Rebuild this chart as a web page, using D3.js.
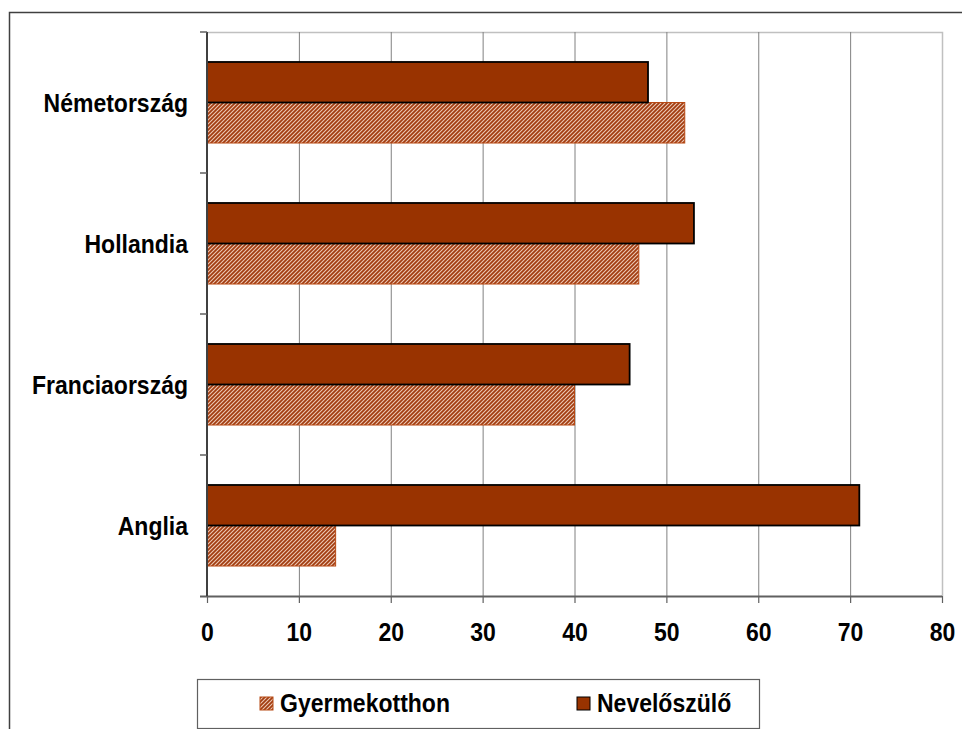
<!DOCTYPE html>
<html>
<head>
<meta charset="utf-8">
<script src="https://cdn.jsdelivr.net/npm/d3@7"></script>
<style>
  body { margin: 0; background: #fff; }
  svg { display: block; }
  text { font-family: "Liberation Sans", Arial, sans-serif; font-weight: bold; }
</style>
</head>
<body>
<script>
const categories = ["Németország", "Hollandia", "Franciaország", "Anglia"];
const seriesNames = ["Nevelőszülő", "Gyermekotthon"];
const nevelo = [48, 53, 46, 71];
const gyermek = [52, 47, 40, 14];
const xTicks = [0, 10, 20, 30, 40, 50, 60, 70, 80];

const W = 962, H = 729;
const FS = 25, SX = 0.92;
const svg = d3.select("body").append("svg").attr("width", W).attr("height", H);

const defs = svg.append("defs");
const pat = defs.append("pattern")
  .attr("id", "hatch").attr("patternUnits", "userSpaceOnUse")
  .attr("width", 4).attr("height", 4);
pat.append("rect").attr("width", 4).attr("height", 4).attr("fill", "#a23c10");
pat.append("path").attr("d", "M-1,1 l2,-2 M0,4 l4,-4 M3,5 l2,-2")
  .attr("stroke", "#ecc8b4").attr("stroke-width", 1.1);

// outer frame
svg.append("path").attr("d", "M9.5,729 L9.5,12.5 L962,12.5")
  .attr("fill", "none").attr("stroke", "#404040").attr("stroke-width", 1.5);

const pLeft = 207, pRight = 942, pTop = 32, pBottom = 596;
const x = d3.scaleLinear().domain([0, 80]).range([pLeft, pRight]);
const y = d3.scaleBand().domain(categories).range([pTop, pBottom]).paddingInner(0).paddingOuter(0);
const inner = d3.scaleBand().domain(seriesNames).range([0, y.bandwidth()]).paddingOuter(0.74).paddingInner(0);

// plot border top/right
svg.append("path").attr("d", `M${pLeft},${pTop + 0.5} L${pRight + 0.5},${pTop + 0.5} L${pRight + 0.5},${pBottom}`)
  .attr("fill", "none").attr("stroke", "#c0c0c0").attr("stroke-width", 1.5);

// gridlines
svg.append("g").selectAll("line").data(xTicks.slice(1, -1)).join("line")
  .attr("x1", d => x(d) + 0.5).attr("x2", d => x(d) + 0.5)
  .attr("y1", pTop).attr("y2", pBottom)
  .attr("stroke", "#808080").attr("stroke-width", 1);

// bars
const rows = categories.map((c, i) => ({ c, vals: [nevelo[i], gyermek[i]] }));
const g = svg.append("g");
rows.forEach(r => {
  g.append("rect")
    .attr("x", x(0)).attr("y", y(r.c) + inner("Gyermekotthon"))
    .attr("width", x(r.vals[1]) - x(0)).attr("height", inner.bandwidth())
    .attr("fill", "url(#hatch)").attr("stroke", "#b84a14").attr("stroke-width", 1);
  g.append("rect")
    .attr("x", x(0)).attr("y", y(r.c) + inner("Nevelőszülő"))
    .attr("width", x(r.vals[0]) - x(0)).attr("height", inner.bandwidth())
    .attr("fill", "#993300").attr("stroke", "#000").attr("stroke-width", 1.8);
});

// x axis
const xAxis = svg.append("g").attr("transform", `translate(0,${pBottom})`)
  .call(d3.axisBottom(x).tickValues(xTicks).tickSize(7).tickPadding(20));
xAxis.select(".domain").attr("stroke", "#606060").attr("stroke-width", 2).attr("d", `M${pLeft - 7},0.5H${pRight}`);
xAxis.selectAll(".tick line").attr("stroke", "#606060").attr("stroke-width", 1.2);
xAxis.selectAll(".tick text").attr("fill", "#000").attr("font-size", FS).attr("font-weight", "bold")
  .attr("font-family", "Liberation Sans, Arial, sans-serif")
  .attr("transform", `scale(${SX},1)`);

// y axis
const yTickPos = d3.range(categories.length + 1).map(i => pTop + i * y.step());
svg.append("line").attr("x1", pLeft).attr("x2", pLeft).attr("y1", pTop).attr("y2", pBottom)
  .attr("stroke", "#404040").attr("stroke-width", 2);
svg.append("g").selectAll("line").data(yTickPos.slice(0, -1)).join("line")
  .attr("x1", pLeft - 7).attr("x2", pLeft).attr("y1", d => d).attr("y2", d => d)
  .attr("stroke", "#606060").attr("stroke-width", 1.5);
svg.append("g").selectAll("text").data(categories).join("text")
  .attr("transform", d => `translate(188,${y(d) + y.bandwidth() / 2}) scale(${SX},1)`)
  .attr("dy", "0.36em").attr("text-anchor", "end")
  .attr("font-size", FS).attr("fill", "#000").text(d => d);

// legend
const leg = svg.append("g");
leg.append("rect").attr("x", 197.5).attr("y", 679.5).attr("width", 562).attr("height", 49)
  .attr("fill", "#fff").attr("stroke", "#606060").attr("stroke-width", 1.2);
const legItems = [
  { name: "Gyermekotthon", sx: 260, fill: "url(#hatch)", stroke: "#b84a14" },
  { name: "Nevelőszülő", sx: 577, fill: "#993300", stroke: "#000" }
];
legItems.forEach(it => {
  leg.append("rect").attr("x", it.sx).attr("y", 697).attr("width", 13).attr("height", 13)
    .attr("fill", it.fill).attr("stroke", it.stroke).attr("stroke-width", 1);
  leg.append("text").attr("transform", `translate(${it.sx + 20},703) scale(${SX},1)`).attr("dy", "0.36em")
    .attr("font-size", FS).attr("fill", "#000").text(it.name);
});
</script>
</body>
</html>
